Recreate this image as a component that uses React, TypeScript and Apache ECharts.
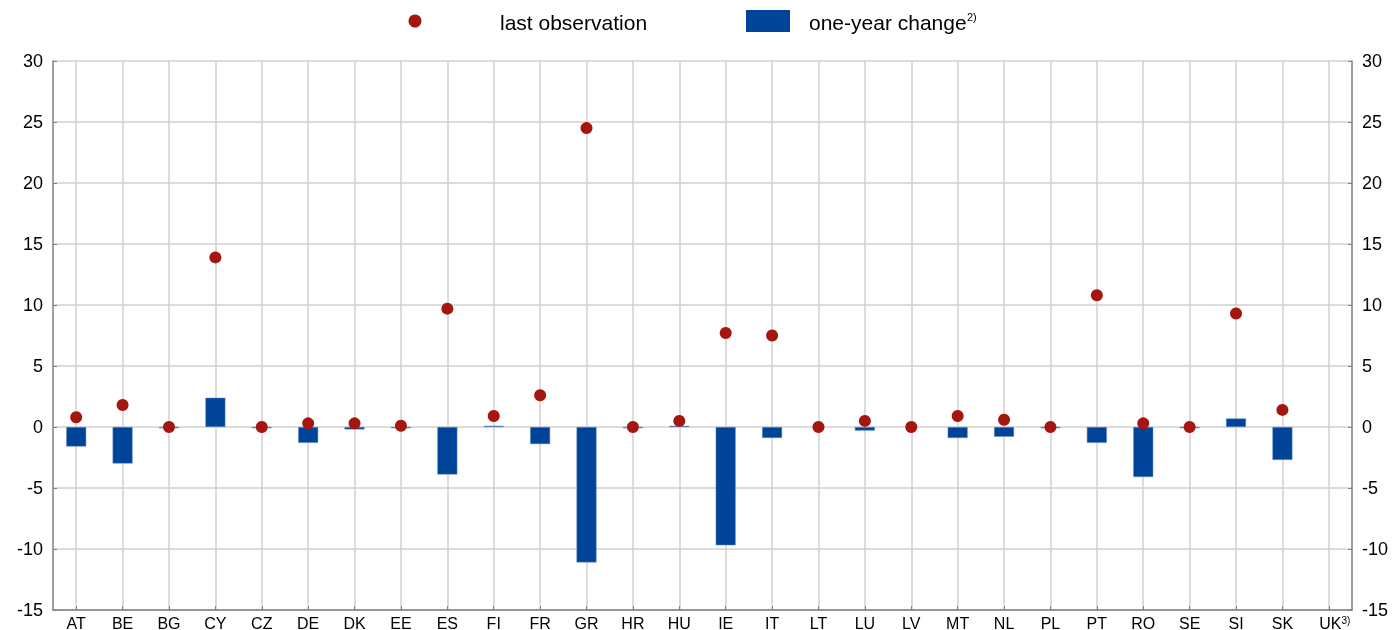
import React, { useEffect, useRef } from "react";
import * as echarts from "echarts";

const categories = ["AT","BE","BG","CY","CZ","DE","DK","EE","ES","FI","FR","GR","HR","HU","IE","IT","LT","LU","LV","MT","NL","PL","PT","RO","SE","SI","SK","UK"];
const lastObservation = [0.8,1.8,0.0,13.9,0.0,0.3,0.3,0.1,9.7,0.9,2.6,24.5,0.0,0.5,7.7,7.5,0.0,0.5,0.0,0.9,0.6,0.0,10.8,0.3,0.0,9.3,1.4,null];
const oneYearChange = [-1.6,-3.0,-0.1,2.4,-0.1,-1.3,-0.2,-0.1,-3.9,0.1,-1.4,-11.1,-0.1,0.1,-9.7,-0.9,null,-0.3,null,-0.9,-0.8,-0.1,-1.3,-4.1,-0.1,0.7,-2.7,null];

const RED = "#a51610";
const BLUE = "#00449a";
const FONT = "Liberation Sans, Arial, sans-serif";

export default function App() {
  const ref = useRef<HTMLDivElement>(null);
  useEffect(() => {
    if (!ref.current) return;
    const chart = echarts.init(ref.current, null, { renderer: "svg" });
    const yAxisBase = (position: "left" | "right") => ({
      type: "value",
      position,
      min: -15,
      max: 30,
      interval: 5,
      axisLine: { show: true, lineStyle: { color: "#7f7f7f", width: 1.5 } },
      axisTick: { show: true, inside: true, length: 4, lineStyle: { color: "#7f7f7f" } },
      axisLabel: { color: "#000", fontSize: 18, fontFamily: FONT, margin: 10 },
      splitLine: { show: position === "left", lineStyle: { color: "#d0d0d0", width: 1.5 } },
    });
    chart.setOption({
      animation: false,
      textStyle: { fontFamily: FONT },
      grid: { left: 53, right: 44, top: 61, bottom: 20, containLabel: false, outerBoundsMode: "none" },
      xAxis: {
        type: "category",
        data: categories,
        boundaryGap: true,
        axisLine: { show: true, onZero: false, lineStyle: { color: "#7f7f7f", width: 1.5 } },
        axisTick: { show: true, alignWithLabel: true, inside: true, length: 4, lineStyle: { color: "#7f7f7f" } },
        axisLabel: {
          color: "#000",
          fontSize: 16,
          fontFamily: FONT,
          margin: 5,
          interval: 0,
          formatter: (v: string) => (v === "UK" ? "{a|UK}{s|3)}" : v),
          rich: {
            a: { fontSize: 16, lineHeight: 16, fontFamily: FONT, color: "#000", padding: [0, 0, 0, 12] },
            s: { fontSize: 10, lineHeight: 16, fontFamily: FONT, color: "#000", verticalAlign: "top" },
          },
        },
        splitLine: { show: true, alignWithLabel: true, lineStyle: { color: "#d0d0d0", width: 1.5 } },
      },
      yAxis: [yAxisBase("left"), yAxisBase("right")],
      series: [
        {
          name: "one-year change",
          type: "bar",
          data: oneYearChange,
          barWidth: 20,
          itemStyle: { color: BLUE, borderColor: "#6f93c6", borderWidth: 0.5 },
          z: 2,
        },
        {
          name: "last observation",
          type: "scatter",
          data: lastObservation,
          symbol: "circle",
          symbolSize: 12,
          itemStyle: { color: RED, opacity: 1 },
          z: 3,
        },
      ],
      graphic: [
        { type: "circle", shape: { cx: 415, cy: 21, r: 6.5 }, style: { fill: RED } },
        { type: "text", x: 500, y: 22, style: { text: "last observation", fontSize: 21, fontFamily: FONT, fill: "#000", verticalAlign: "middle" } },
        { type: "rect", shape: { x: 746, y: 10, width: 44, height: 22 }, style: { fill: BLUE } },
        { type: "text", x: 809, y: 22, style: { text: "one-year change", fontSize: 21, fontFamily: FONT, fill: "#000", verticalAlign: "middle" } },
        { type: "text", x: 967, y: 17, style: { text: "2)", fontSize: 11, fontFamily: FONT, fill: "#000", verticalAlign: "middle" } },
      ],
    });
    return () => chart.dispose();
  }, []);
  return <div ref={ref} style={{ position: "fixed", left: 0, top: 0, width: 1396, height: 630 }} />;
}
